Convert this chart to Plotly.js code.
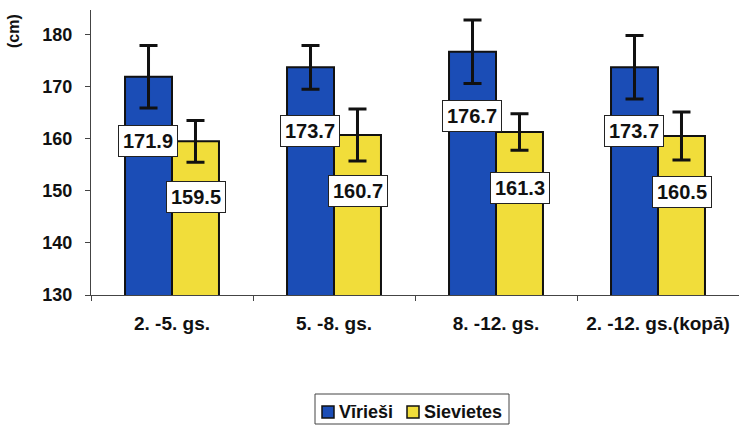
<!DOCTYPE html>
<html>
<head>
<meta charset="utf-8">
<script src="https://cdn.plot.ly/plotly-3.0.1.min.js"></script>
<style>html,body{margin:0;padding:0;background:#fff;}#chart{width:739px;height:425px;}</style>
</head>
<body>
<div id="chart"></div>
<script>
const categories = ["2. -5. gs.", "5. -8. gs.", "8. -12. gs.", "2. -12. gs.(kopā)"];
const seriesNames = ["Vīrieši", "Sievietes"];
const menValues = [171.9, 173.7, 176.7, 173.7];
const menErrors = [6.0, 4.2, 6.1, 6.1];
const womenValues = [159.5, 160.7, 161.3, 160.5];
const womenErrors = [4.0, 5.0, 3.5, 4.6];
const yTicks = [130, 140, 150, 160, 170, 180];

const FONT = "Arial, 'Liberation Sans', sans-serif";
const blue = "#1b4db6";
const yellow = "#f1dd3a";
const colors = [blue, yellow];

// plot area geometry (pixels)
const M = {l: 91, r: 0, t: 10, b: 130};
const W = 739, H = 425;
const pw = W - M.l - M.r, ph = H - M.t - M.b;
const px = v => (v - M.l) / pw;
const py = v => (H - M.b - v) / ph;

const errStyle = {type: "data", visible: true, color: "#111", thickness: 3, width: 9};

const traces = [
  {type: "bar", name: seriesNames[0], x: categories, y: menValues,
   error_y: Object.assign({array: menErrors}, errStyle),
   marker: {color: colors[0], line: {color: "#111", width: 2}}, hoverinfo: "none"},
  {type: "bar", name: seriesNames[1], x: categories, y: womenValues,
   error_y: Object.assign({array: womenErrors}, errStyle),
   marker: {color: colors[1], line: {color: "#111", width: 2}}, hoverinfo: "none"}
];

const annotations = [];
function addLabels(vals, xshift, yshift) {
  vals.forEach((v, i) => {
    annotations.push({
      x: categories[i], y: v, xref: "x", yref: "y",
      text: v.toFixed(1), showarrow: false,
      xshift: xshift, yshift: yshift,
      font: {family: FONT, size: 20, color: "#111", weight: "bold"},
      bgcolor: "#fff", bordercolor: "#222", borderwidth: 1, borderpad: 4
    });
  });
}
addLabels(menValues, -24, -64);
addLabels(womenValues, 24, -56);

// y axis title
annotations.push({
  text: "(cm)", xref: "paper", yref: "paper", x: px(13), y: py(12),
  xanchor: "center", yanchor: "top", textangle: -90, showarrow: false,
  font: {family: FONT, size: 16, color: "#111", weight: "bold"}
});

// custom legend (compact, like the original)
const shapes = [
  {type: "rect", xref: "paper", yref: "paper", x0: px(315), x1: px(509), y0: py(394), y1: py(424),
   line: {color: "#444", width: 1}, fillcolor: "#fff"}
];
const legItems = [{sq: 322, tx: 337}, {sq: 407, tx: 422}];
legItems.forEach((it, i) => {
  shapes.push({type: "rect", xref: "paper", yref: "paper",
    x0: px(it.sq), x1: px(it.sq + 12), y0: py(406), y1: py(418),
    line: {color: "#111", width: 1.5}, fillcolor: colors[i]});
  annotations.push({text: seriesNames[i], xref: "paper", yref: "paper",
    x: px(it.tx), y: py(412), xanchor: "left", yanchor: "middle", showarrow: false,
    font: {family: FONT, size: 18, color: "#111", weight: "bold"}});
});

const layout = {
  width: W, height: H,
  margin: M,
  paper_bgcolor: "#fff", plot_bgcolor: "#fff",
  barmode: "group", bargap: 0.42, bargroupgap: 0,
  showlegend: false,
  xaxis: {type: "category", showline: true, linecolor: "#444", linewidth: 1,
          ticks: "outside", tickson: "boundaries", ticklen: 5, tickcolor: "#444",
          showgrid: false, zeroline: false,
          ticklabelstandoff: 11,
          tickfont: {family: FONT, size: 19, color: "#111", weight: "bold"}},
  yaxis: {range: [130, 184.7], tickvals: yTicks, showline: true, linecolor: "#444",
          linewidth: 1, ticks: "outside", ticklen: 5, tickcolor: "#444",
          showgrid: false, zeroline: false, ticklabelstandoff: 9,
          tickfont: {family: FONT, size: 18, color: "#111", weight: "bold"}},
  annotations: annotations,
  shapes: shapes,
  font: {family: FONT}
};

Plotly.newPlot("chart", traces, layout, {displayModeBar: false, staticPlot: true});
</script>
</body>
</html>
